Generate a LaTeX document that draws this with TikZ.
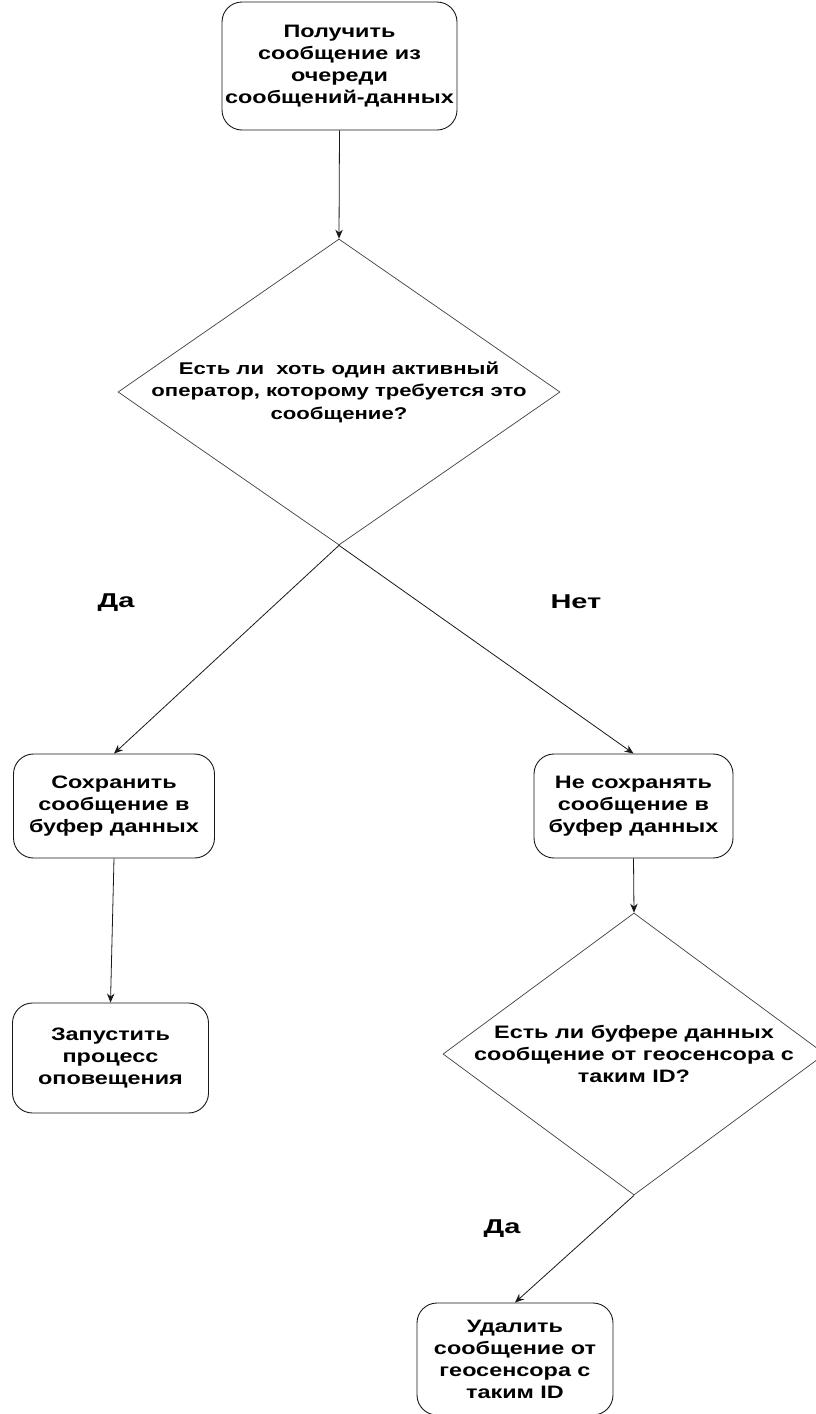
\documentclass[tikz,border=0pt]{standalone}
\usepackage{fontspec}
\setmainfont{Liberation Sans}
\newfontfamily\boxfont[FakeStretch=1.3]{Liberation Sans}
\newfontfamily\lblfont[FakeStretch=1.45]{Liberation Sans}
\usetikzlibrary{shapes.geometric,arrows.meta,calc}
\tikzset{
  box/.style={draw=black!90, line width=0.9pt, rounded corners=20pt, align=center, inner sep=0pt},
  dia/.style={draw=black!75, line width=0.7pt, diamond, inner sep=0pt},
  txt/.style={align=center, font=\boxfont\fontsize{18}{22}\selectfont\bfseries},
  smalltxt/.style={align=center, font=\boxfont\fontsize{17}{22.5}\selectfont\bfseries},
  lbl/.style={font=\lblfont\fontsize{20}{24}\selectfont\bfseries},
  arr/.style={draw=black!90, line width=0.8pt, -{Stealth[length=9pt,width=7.5pt]}},
}
\begin{document}
\begin{tikzpicture}[x=1pt,y=-1pt]
\useasboundingbox[fill=white] (0,0) rectangle (816,1414);
\node[box, minimum width=235pt, minimum height=128pt] (get) at (339.5,66) {};
\node[txt] (gett) at (get.center) {Получить\\сообщение из\\очереди\\сообщений-данных};
\node[dia, minimum width=442pt, minimum height=306pt] (d1) at (339,392) {};
\node[smalltxt] (d1t) at (339,392) {Есть ли \ хоть один активный\\оператор, которому требуется это\\сообщение?};
\node[box, minimum width=201pt, minimum height=104pt] (save) at (114,806) {};
\node[txt] (savet) at (save.center) {Сохранить\\сообщение в\\буфер данных};
\node[box, minimum width=199pt, minimum height=104pt] (nosave) at (633.5,806) {};
\node[txt] (nosavet) at (nosave.center) {Не сохранять\\сообщение в\\буфер данных};
\node[box, minimum width=196pt, minimum height=110pt] (run) at (110.5,1058) {};
\node[txt] (runt) at (run.center) {Запустить\\процесс\\оповещения};
\node[dia, minimum width=382pt, minimum height=282pt] (d2) at (634,1054) {};
\node[txt] (d2t) at (634,1054) {Есть ли буфере данных\\сообщение от геосенсора с\\таким ID?};
\node[box, minimum width=196pt, minimum height=112pt] (del) at (515,1359) {};
\node[txt] (delt) at (del.center) {Удалить\\сообщение от\\геосенсора с\\таким ID};
\node[lbl] (yes1) at (116,603) {Да};
\node[lbl] (no1) at (576,602) {Нет};
\node[lbl] (yes2) at (502,1229) {Да};
\draw[arr] (get.south) -- (d1.north);
\draw[arr] (d1.south) -- (save.north);
\draw[arr] (d1.south) -- (nosave.north);
\draw[arr] (save.south) -- (run.north);
\draw[arr] (nosave.south) -- (d2.north);
\draw[arr] (d2.south) -- (del.north);
\end{tikzpicture}
\end{document}
